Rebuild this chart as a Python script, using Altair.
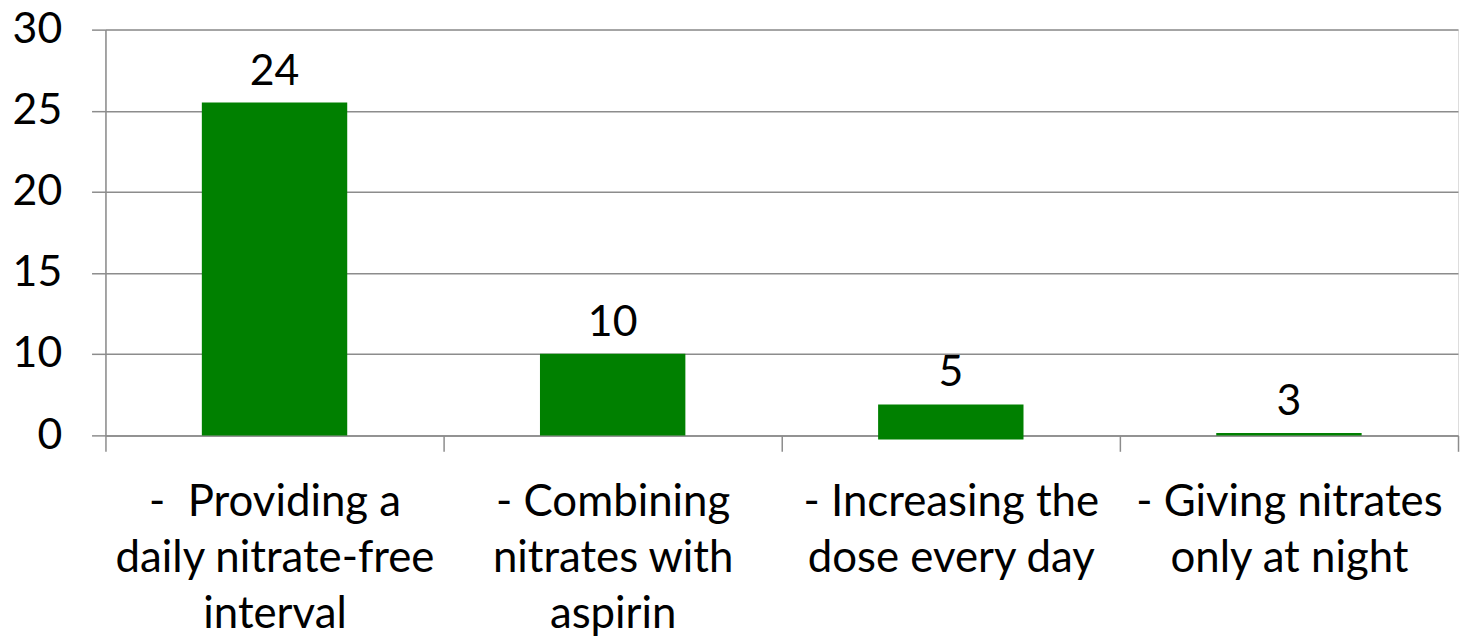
import altair as alt
import pandas as pd

categories = [
    ["-\u00a0 Providing a", "daily nitrate-free", "interval"],
    ["- Combining", "nitrates with", "aspirin"],
    ["- Increasing the", "dose every day"],
    ["- Giving nitrates", "only at night"],
]
cat_keys = ["c1", "c2", "c3", "c4"]
bar_top = [25.5, 10.0, 3.8, 0.3]
bar_base = [0.0, 0.0, -0.5, 0.0]
label_values = ["24", "10", "5", "3"]
y_ticks = [0, 10, 15, 20, 25, 30]

df = pd.DataFrame({
    "key": cat_keys,
    "top": bar_top,
    "base": bar_base,
    "label": label_values,
})

label_map = {k: v for k, v in zip(cat_keys, categories)}
label_expr = "{" + ",".join(
    f"'{k}': [" + ",".join(f"'{line}'" for line in v) + "]" for k, v in label_map.items()
) + "}[datum.value]"

FONT = "Lato"
FS_X = 44
FS_Y = 43
GRID = "#8c8c8c"

xscale = alt.Scale(paddingInner=0, paddingOuter=0)

x = alt.X(
    "key:N",
    sort=cat_keys,
    title=None,
    scale=xscale,
    axis=alt.Axis(
        labelExpr=label_expr,
        labelAngle=0,
        labelFont=FONT,
        labelFontSize=FS_X,
        labelColor="black",
        labelLineHeight=56,
        labelPadding=30,
        labelBaseline="top",
        labelLimit=0,
        tickBand="extent",
        tickSize=16,
        tickColor=GRID,
        tickWidth=1.5,
        domainColor=GRID,
        domainWidth=1.5,
        grid=False,
    ),
)

yscale = alt.Scale(domain=[0, 10, 30], range=[408, 326, 0], zero=False, nice=False, clamp=False)

bars = alt.Chart(df).mark_bar(color="#008000", width=alt.RelativeBandSize(0.43)).encode(
    x=x,
    y=alt.Y(
        "top:Q",
        scale=yscale,
        title=None,
        axis=alt.Axis(
            values=y_ticks,
            labelFont=FONT,
            labelFontSize=FS_Y,
            labelColor="black",
            labelPadding=30,
            tickSize=14,
            tickColor=GRID,
            tickWidth=1.5,
            gridColor=GRID,
            gridWidth=1.5,
            domainColor=GRID,
            domainWidth=1.5,
        ),
    ),
    y2="base:Q",
)

texts = alt.Chart(df).mark_text(
    font=FONT, fontSize=FS_Y, color="black", baseline="alphabetic", dy=-18
).encode(
    x=alt.X("key:N", sort=cat_keys),
    y=alt.Y("top:Q", scale=yscale),
    text="label:N",
)

chart = (
    alt.layer(bars, texts)
    .properties(
        width=1360,
        height=408,
        autosize=alt.AutoSizeParams(type="none"),
        padding={"left": 98, "top": 20, "right": 2, "bottom": 204},
    )
    .configure_view(stroke=None)
    .configure(background="white")
)

chart.save("out.html", embed_options={"renderer": "svg", "actions": False})
